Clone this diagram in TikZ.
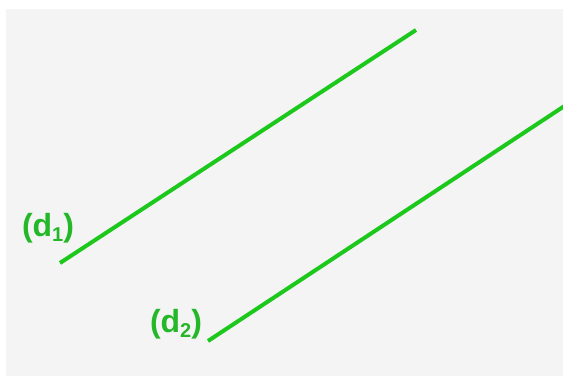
\documentclass[tikz,border=0pt]{standalone}
\usepackage{fontspec}
\setmainfont{Liberation Sans}
\usepackage{tikz}
\usetikzlibrary{positioning,calc}
\definecolor{linegreen}{RGB}{28,200,28}
\definecolor{labelgreen}{RGB}{36,184,40}
\definecolor{paper}{RGB}{244,244,244}
\newcommand{\lowsub}[1]{\raisebox{-0.3ex}{\fontsize{20}{22}\selectfont #1}}

\begin{document}
\begin{tikzpicture}[x=1pt, y=-1pt,
    line/.style={linegreen, line width=4pt},
    lab/.style={labelgreen, font=\bfseries\fontsize{32}{36}\selectfont, inner sep=0pt}]
            \useasboundingbox (0,0) rectangle (563,376);
            \fill[white] (0,0) rectangle (563,376);
            \fill[paper] (6,9) rectangle (563,376);
            \coordinate (d1a) at (60,263);
            \coordinate (d1b) at (416,30);
            \coordinate (d2a) at (208,341);
            \coordinate (d2b) at (566,105);
            \draw[line] (d1a) -- (d1b);
            \draw[line] (d2a) -- (d2b);
            \node[lab] (l1) at (48,228) {(d\lowsub{1})};
            \node[lab] (l2) at (176,324) {(d\lowsub{2})};
        \end{tikzpicture}
\end{document}
